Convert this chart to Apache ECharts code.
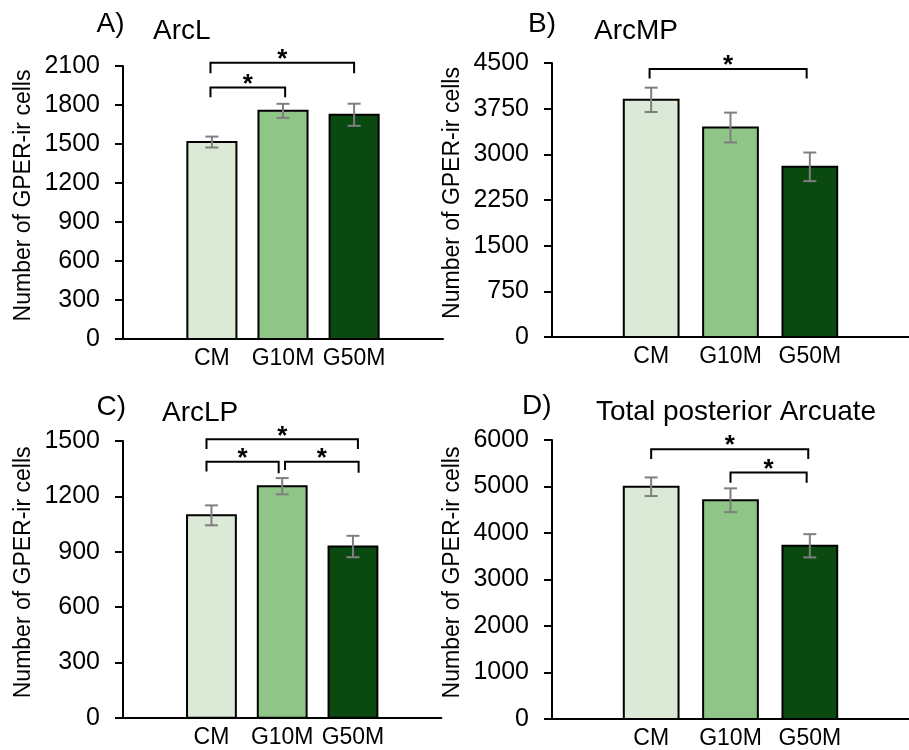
<!DOCTYPE html>
<html>
<head>
<meta charset="utf-8">
<script src="https://cdn.jsdelivr.net/npm/echarts@6/dist/echarts.min.js"></script>
<style>
html,body{margin:0;padding:0;background:#fff;}
#chart{width:909px;height:750px;}
</style>
</head>
<body>
<div id="chart"></div>
<script>
// ---- data ----
const categories = ['CM', 'G10M', 'G50M'];
const barColors = ['#dbead6', '#8fc587', '#0a4a10'];

const arcLMean = [1515, 1755, 1725];
const arcLErr = [42, 54, 85];
const arcMPMean = [3895, 3440, 2795];
const arcMPErr = [200, 245, 235];
const arcLPMean = [1097, 1255, 928];
const arcLPErr = [54, 44, 58];
const totalMean = [4995, 4705, 3725];
const totalErr = [200, 255, 250];

// significance brackets: [fromX, toX, level, leftDropTo, rightDropTo]
const arcLSig = [[-0.02, 1.03, 1935, 1860, 1860], [-0.02, 2.0, 2125, 2045, 2045]];
const arcMPSig = [[-0.02, 1.96, 4400, 4245, 4245]];
const arcLPSig = [[-0.07, 2.07, 1509, 1457, 1457], [-0.07, 0.95, 1388, 1334, 1325], [1.04, 2.08, 1388, 1343, 1328]];
const totalSig = [[0.0, 1.98, 5800, 5590, 5590], [1.0, 1.96, 5300, 5080, 5080]];

const yMax = [2100, 4500, 1500, 6000];
const yInterval = [300, 750, 300, 1000];
const panelLetters = ['A)', 'B)', 'C)', 'D)'];
const panelTitles = ['ArcL', 'ArcMP', 'ArcLP', 'Total posterior Arcuate'];
const yAxisTitle = 'Number of GPER-ir cells';

// ---- layout / style ----
const FONT = "'Liberation Sans', Arial, Helvetica, sans-serif";
const grids = [
  {left: 123, top: 66, width: 320, height: 273},
  {left: 552, top: 63, width: 365.6, height: 274},
  {left: 123, top: 441, width: 318.4, height: 276.7},
  {left: 552, top: 440, width: 365.6, height: 280.7}
];
const means = [arcLMean, arcMPMean, arcLPMean, totalMean];
const errs = [arcLErr, arcMPErr, arcLPErr, totalErr];
const sigs = [arcLSig, arcMPSig, arcLPSig, totalSig];

const xAxes = grids.map((g, k) => ({
  type: 'value', gridIndex: k, min: -1.25, max: 3.25,
  splitLine: {show: false},
  axisTick: {show: false},
  axisLine: {show: true, onZero: false, lineStyle: {color: '#000', width: 2}},
  axisLabel: {
    customValues: [0, 1, 2],
    formatter: v => categories[Math.round(v)] || '',
    color: '#000', fontSize: 23, fontFamily: FONT, margin: 8
  }
}));

const yAxes = grids.map((g, k) => ({
  type: 'value', gridIndex: k, min: 0, max: yMax[k], interval: yInterval[k],
  splitLine: {show: false},
  axisLine: {show: true, onZero: false, lineStyle: {color: '#000', width: 2}},
  axisTick: {show: true, inside: false, length: 8, lineStyle: {color: '#000', width: 2}},
  axisLabel: {color: '#000', fontSize: 25, fontFamily: FONT, margin: 23, formatter: v => String(v)},
  name: yAxisTitle, nameLocation: 'middle', nameGap: 88,
  nameTextStyle: {color: '#000', fontSize: 23, fontFamily: FONT, padding: [0, 0, 0, 14]}
}));

const series = [];
grids.forEach((g, k) => {
  // bars
  series.push({
    type: 'custom', xAxisIndex: k, yAxisIndex: k,
    data: means[k].map((v, i) => [i, v]),
    encode: {x: 0, y: 1},
    renderItem: (params, api) => {
      const i = api.value(0), v = api.value(1);
      const p0 = api.coord([i, 0]);
      const p1 = api.coord([i, v]);
      const w = api.size([0.69, 0])[0];
      return {
        type: 'rect',
        shape: {x: p1[0] - w / 2, y: p1[1], width: w, height: p0[1] - p1[1]},
        style: {fill: barColors[i], stroke: '#000', lineWidth: 2}
      };
    },
    z: 2
  });
  // error bars
  series.push({
    type: 'custom', xAxisIndex: k, yAxisIndex: k,
    data: means[k].map((v, i) => [i, v - errs[k][i], v + errs[k][i]]),
    encode: {x: 0, y: [1, 2]},
    renderItem: (params, api) => {
      const i = api.value(0);
      const lo = api.coord([i, api.value(1)]);
      const hi = api.coord([i, api.value(2)]);
      const c = 6.5;
      const st = {stroke: '#7f7f7f', lineWidth: 2};
      return {
        type: 'group',
        children: [
          {type: 'line', shape: {x1: lo[0], y1: lo[1], x2: hi[0], y2: hi[1]}, style: st},
          {type: 'line', shape: {x1: lo[0] - c, y1: lo[1], x2: lo[0] + c, y2: lo[1]}, style: st},
          {type: 'line', shape: {x1: hi[0] - c, y1: hi[1], x2: hi[0] + c, y2: hi[1]}, style: st}
        ]
      };
    },
    z: 3
  });
  // significance brackets
  series.push({
    type: 'custom', xAxisIndex: k, yAxisIndex: k,
    data: sigs[k],
    encode: {x: [0, 1], y: [2, 3, 4]},
    clip: false,
    renderItem: (params, api) => {
      const x1 = api.value(0), x2 = api.value(1), lv = api.value(2);
      const a = api.coord([x1, api.value(3)]);
      const b = api.coord([x1, lv]);
      const c = api.coord([x2, lv]);
      const d = api.coord([x2, api.value(4)]);
      const m = api.coord([(x1 + x2) / 2, lv]);
      return {
        type: 'group',
        children: [
          {type: 'polyline', shape: {points: [a, b, c, d]},
           style: {stroke: '#000', lineWidth: 2, fill: null}},
          {type: 'text', x: m[0], y: m[1] + 10,
           style: {text: '*', font: 'bold 26px ' + FONT, fill: '#000', align: 'center', verticalAlign: 'bottom'}}
        ]
      };
    },
    z: 4
  });
});

const titlePos = [
  {lx: 96.5, ly: 24.5, tx: 153, ty: 31.5},
  {lx: 528, ly: 24, tx: 594, ty: 31},
  {lx: 96.5, ly: 407, tx: 162, ty: 413},
  {lx: 522, ly: 406, tx: 596, ty: 412}
];
const graphics = [];
titlePos.forEach((p, k) => {
  graphics.push({type: 'text', x: p.lx, y: p.ly,
    style: {text: panelLetters[k], font: '28px ' + FONT, fill: '#000', verticalAlign: 'middle'}});
  graphics.push({type: 'text', x: p.tx, y: p.ty,
    style: {text: panelTitles[k], font: '28px ' + FONT, fill: '#000', verticalAlign: 'middle'}});
});

const chart = echarts.init(document.getElementById('chart'), null, {renderer: 'canvas'});
chart.setOption({
  backgroundColor: '#fff',
  animation: false,
  grid: grids,
  xAxis: xAxes,
  yAxis: yAxes,
  series: series,
  graphic: graphics
});
</script>
</body>
</html>
